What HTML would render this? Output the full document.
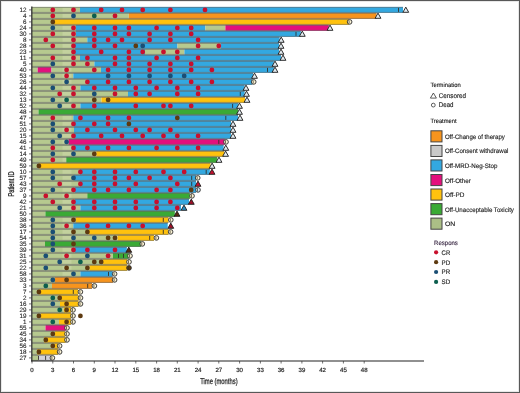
<!DOCTYPE html><html><head><meta charset="utf-8"><style>
html,body{margin:0;padding:0;background:#fff;}
body{width:520px;height:393px;overflow:hidden;position:relative;font-family:"Liberation Sans",sans-serif;}
svg{position:absolute;left:0;top:0;will-change:transform;filter:blur(0.3px);}
text{font-family:"Liberation Sans",sans-serif;text-rendering:geometricPrecision;}
</style></head><body>
<svg width="520" height="393" viewBox="0 0 520 393">
<rect x="0" y="0" width="520" height="393" fill="#fff"/>
<rect x="32.0" y="6.9" width="48.0" height="6.0" fill="#b6c98f"/>
<rect x="80.0" y="6.9" width="323.0" height="6.0" fill="#33a8e0"/>
<rect x="32.0" y="12.9" width="96.8" height="6.0" fill="#b6c98f"/>
<rect x="128.8" y="12.9" width="247.7" height="6.0" fill="#f7941d"/>
<rect x="32.0" y="18.9" width="22.0" height="6.0" fill="#b6c98f"/>
<rect x="54.0" y="18.9" width="294.7" height="6.0" fill="#ffc20e"/>
<rect x="32.0" y="24.9" width="44.0" height="6.0" fill="#b6c98f"/>
<rect x="76.0" y="24.9" width="129.4" height="6.0" fill="#33a8e0"/>
<rect x="205.4" y="24.9" width="20.0" height="6.0" fill="#b6c98f"/>
<rect x="225.4" y="24.9" width="103.4" height="6.0" fill="#e4107d"/>
<rect x="32.0" y="30.9" width="44.0" height="6.0" fill="#b6c98f"/>
<rect x="76.0" y="30.9" width="224.8" height="6.0" fill="#33a8e0"/>
<rect x="32.0" y="36.9" width="55.3" height="6.0" fill="#b6c98f"/>
<rect x="87.3" y="36.9" width="192.3" height="6.0" fill="#33a8e0"/>
<rect x="32.0" y="42.9" width="43.0" height="6.0" fill="#b6c98f"/>
<rect x="75.0" y="42.9" width="102.5" height="6.0" fill="#33a8e0"/>
<rect x="177.5" y="42.9" width="43.2" height="6.0" fill="#b6c98f"/>
<rect x="220.7" y="42.9" width="58.3" height="6.0" fill="#33a8e0"/>
<rect x="32.0" y="48.9" width="43.0" height="6.0" fill="#b6c98f"/>
<rect x="75.0" y="48.9" width="70.0" height="6.0" fill="#33a8e0"/>
<rect x="145.0" y="48.9" width="39.4" height="6.0" fill="#b6c98f"/>
<rect x="184.4" y="48.9" width="94.6" height="6.0" fill="#33a8e0"/>
<rect x="32.0" y="54.9" width="48.0" height="6.0" fill="#b6c98f"/>
<rect x="80.0" y="54.9" width="201.0" height="6.0" fill="#33a8e0"/>
<rect x="32.0" y="60.9" width="62.4" height="6.0" fill="#b6c98f"/>
<rect x="94.4" y="60.9" width="179.4" height="6.0" fill="#33a8e0"/>
<rect x="32.0" y="66.9" width="5.7" height="6.0" fill="#b6c98f"/>
<rect x="37.7" y="66.9" width="13.8" height="6.0" fill="#e4107d"/>
<rect x="51.5" y="66.9" width="49.5" height="6.0" fill="#b6c98f"/>
<rect x="101.0" y="66.9" width="172.8" height="6.0" fill="#33a8e0"/>
<rect x="32.0" y="72.9" width="41.3" height="6.0" fill="#b6c98f"/>
<rect x="73.3" y="72.9" width="179.7" height="6.0" fill="#33a8e0"/>
<rect x="32.0" y="78.9" width="55.3" height="6.0" fill="#b6c98f"/>
<rect x="87.3" y="78.9" width="165.0" height="6.0" fill="#33a8e0"/>
<rect x="32.0" y="84.9" width="48.4" height="6.0" fill="#b6c98f"/>
<rect x="80.4" y="84.9" width="164.2" height="6.0" fill="#33a8e0"/>
<rect x="32.0" y="90.9" width="96.0" height="6.0" fill="#b6c98f"/>
<rect x="128.0" y="90.9" width="116.6" height="6.0" fill="#33a8e0"/>
<rect x="32.0" y="96.9" width="69.5" height="6.0" fill="#b6c98f"/>
<rect x="101.5" y="96.9" width="143.5" height="6.0" fill="#ffc20e"/>
<rect x="32.0" y="102.9" width="48.4" height="6.0" fill="#b6c98f"/>
<rect x="80.4" y="102.9" width="157.9" height="6.0" fill="#33a8e0"/>
<rect x="32.0" y="108.9" width="6.5" height="6.0" fill="#b6c98f"/>
<rect x="38.5" y="108.9" width="199.5" height="6.0" fill="#3aaa35"/>
<rect x="32.0" y="114.9" width="41.3" height="6.0" fill="#b6c98f"/>
<rect x="73.3" y="114.9" width="164.7" height="6.0" fill="#33a8e0"/>
<rect x="32.0" y="120.9" width="41.8" height="6.0" fill="#b6c98f"/>
<rect x="73.8" y="120.9" width="157.2" height="6.0" fill="#33a8e0"/>
<rect x="32.0" y="126.9" width="42.0" height="6.0" fill="#b6c98f"/>
<rect x="74.0" y="126.9" width="157.0" height="6.0" fill="#33a8e0"/>
<rect x="32.0" y="132.9" width="42.0" height="6.0" fill="#b6c98f"/>
<rect x="74.0" y="132.9" width="157.0" height="6.0" fill="#33a8e0"/>
<rect x="32.0" y="138.9" width="36.5" height="6.0" fill="#b6c98f"/>
<rect x="68.5" y="138.9" width="156.3" height="6.0" fill="#e4107d"/>
<rect x="32.0" y="144.9" width="42.0" height="6.0" fill="#b6c98f"/>
<rect x="74.0" y="144.9" width="149.6" height="6.0" fill="#33a8e0"/>
<rect x="32.0" y="150.9" width="64.3" height="6.0" fill="#b6c98f"/>
<rect x="96.3" y="150.9" width="127.9" height="6.0" fill="#ffc20e"/>
<rect x="32.0" y="156.9" width="34.2" height="6.0" fill="#b6c98f"/>
<rect x="66.2" y="156.9" width="151.1" height="6.0" fill="#3aaa35"/>
<rect x="32.0" y="162.9" width="7.0" height="6.0" fill="#b6c98f"/>
<rect x="39.0" y="162.9" width="171.4" height="6.0" fill="#ffc20e"/>
<rect x="32.0" y="168.9" width="48.0" height="6.0" fill="#b6c98f"/>
<rect x="80.0" y="168.9" width="129.8" height="6.0" fill="#33a8e0"/>
<rect x="32.0" y="174.9" width="42.0" height="6.0" fill="#b6c98f"/>
<rect x="74.0" y="174.9" width="122.0" height="6.0" fill="#33a8e0"/>
<rect x="32.0" y="180.9" width="48.0" height="6.0" fill="#b6c98f"/>
<rect x="80.0" y="180.9" width="116.0" height="6.0" fill="#33a8e0"/>
<rect x="32.0" y="186.9" width="43.0" height="6.0" fill="#b6c98f"/>
<rect x="75.0" y="186.9" width="121.0" height="6.0" fill="#33a8e0"/>
<rect x="32.0" y="192.9" width="55.3" height="6.0" fill="#b6c98f"/>
<rect x="87.3" y="192.9" width="102.5" height="6.0" fill="#3aaa35"/>
<rect x="32.0" y="198.9" width="43.0" height="6.0" fill="#b6c98f"/>
<rect x="75.0" y="198.9" width="114.0" height="6.0" fill="#33a8e0"/>
<rect x="32.0" y="204.9" width="48.4" height="6.0" fill="#b6c98f"/>
<rect x="80.4" y="204.9" width="100.6" height="6.0" fill="#33a8e0"/>
<rect x="32.0" y="210.9" width="13.4" height="6.0" fill="#b6c98f"/>
<rect x="45.4" y="210.9" width="129.4" height="6.0" fill="#3aaa35"/>
<rect x="32.0" y="216.9" width="44.0" height="6.0" fill="#b6c98f"/>
<rect x="76.0" y="216.9" width="92.5" height="6.0" fill="#ffc20e"/>
<rect x="32.0" y="222.9" width="41.3" height="6.0" fill="#b6c98f"/>
<rect x="73.3" y="222.9" width="94.4" height="6.0" fill="#33a8e0"/>
<rect x="32.0" y="228.9" width="56.5" height="6.0" fill="#b6c98f"/>
<rect x="88.5" y="228.9" width="80.0" height="6.0" fill="#ffc20e"/>
<rect x="32.0" y="234.9" width="85.5" height="6.0" fill="#b6c98f"/>
<rect x="117.5" y="234.9" width="36.5" height="6.0" fill="#ffc20e"/>
<rect x="32.0" y="240.9" width="13.0" height="6.0" fill="#b6c98f"/>
<rect x="45.0" y="240.9" width="96.0" height="6.0" fill="#3aaa35"/>
<rect x="32.0" y="246.9" width="43.0" height="6.0" fill="#b6c98f"/>
<rect x="75.0" y="246.9" width="51.8" height="6.0" fill="#33a8e0"/>
<rect x="32.0" y="252.9" width="81.0" height="6.0" fill="#b6c98f"/>
<rect x="113.0" y="252.9" width="15.7" height="6.0" fill="#3aaa35"/>
<rect x="32.0" y="258.9" width="71.0" height="6.0" fill="#b6c98f"/>
<rect x="103.0" y="258.9" width="24.2" height="6.0" fill="#ffc20e"/>
<rect x="32.0" y="264.9" width="57.6" height="6.0" fill="#b6c98f"/>
<rect x="89.6" y="264.9" width="37.6" height="6.0" fill="#ffc20e"/>
<rect x="32.0" y="270.9" width="48.4" height="6.0" fill="#b6c98f"/>
<rect x="80.4" y="270.9" width="32.3" height="6.0" fill="#33a8e0"/>
<rect x="32.0" y="276.9" width="23.0" height="6.0" fill="#b6c98f"/>
<rect x="55.0" y="276.9" width="58.0" height="6.0" fill="#f7941d"/>
<rect x="32.0" y="282.9" width="20.0" height="6.0" fill="#b6c98f"/>
<rect x="52.0" y="282.9" width="40.0" height="6.0" fill="#f7941d"/>
<rect x="32.0" y="288.9" width="7.0" height="6.0" fill="#b6c98f"/>
<rect x="39.0" y="288.9" width="39.0" height="6.0" fill="#ffc20e"/>
<rect x="32.0" y="294.9" width="26.3" height="6.0" fill="#b6c98f"/>
<rect x="58.3" y="294.9" width="20.2" height="6.0" fill="#ffc20e"/>
<rect x="32.0" y="300.9" width="28.0" height="6.0" fill="#b6c98f"/>
<rect x="60.0" y="300.9" width="18.5" height="6.0" fill="#ffc20e"/>
<rect x="32.0" y="306.9" width="31.7" height="6.0" fill="#b6c98f"/>
<rect x="63.7" y="306.9" width="7.3" height="6.0" fill="#ffc20e"/>
<rect x="32.0" y="312.9" width="8.8" height="6.0" fill="#b6c98f"/>
<rect x="40.8" y="312.9" width="30.2" height="6.0" fill="#ffc20e"/>
<rect x="32.0" y="318.9" width="27.0" height="6.0" fill="#b6c98f"/>
<rect x="59.0" y="318.9" width="12.0" height="6.0" fill="#ffc20e"/>
<rect x="32.0" y="324.9" width="13.5" height="6.0" fill="#b6c98f"/>
<rect x="45.5" y="324.9" width="20.2" height="6.0" fill="#e4107d"/>
<rect x="32.0" y="330.9" width="23.0" height="6.0" fill="#b6c98f"/>
<rect x="55.0" y="330.9" width="10.0" height="6.0" fill="#ffc20e"/>
<rect x="32.0" y="336.9" width="12.0" height="6.0" fill="#b6c98f"/>
<rect x="44.0" y="336.9" width="21.7" height="6.0" fill="#ffc20e"/>
<rect x="32.0" y="342.9" width="22.2" height="6.0" fill="#b6c98f"/>
<rect x="54.2" y="342.9" width="4.1" height="6.0" fill="#ffc20e"/>
<rect x="32.0" y="348.9" width="5.0" height="6.0" fill="#b6c98f"/>
<rect x="37.0" y="348.9" width="21.0" height="6.0" fill="#ffc20e"/>
<rect x="32.0" y="354.9" width="6.0" height="6.0" fill="#b6c98f"/>
<rect x="38.0" y="354.9" width="13.5" height="6.0" fill="#d3d3da"/>
<rect x="62.5" y="7.9" width="9.0" height="4.0" fill="#d6dfb4" opacity="0.4"/>
<rect x="62.5" y="13.9" width="9.0" height="4.0" fill="#d6dfb4" opacity="0.4"/>
<rect x="62.5" y="25.9" width="9.0" height="4.0" fill="#d6dfb4" opacity="0.4"/>
<rect x="62.5" y="31.9" width="9.0" height="4.0" fill="#d6dfb4" opacity="0.4"/>
<rect x="62.5" y="37.9" width="9.0" height="4.0" fill="#d6dfb4" opacity="0.4"/>
<rect x="62.5" y="43.9" width="9.0" height="4.0" fill="#d6dfb4" opacity="0.4"/>
<rect x="62.5" y="49.9" width="9.0" height="4.0" fill="#d6dfb4" opacity="0.4"/>
<rect x="62.5" y="55.9" width="9.0" height="4.0" fill="#d6dfb4" opacity="0.4"/>
<rect x="62.5" y="61.9" width="9.0" height="4.0" fill="#d6dfb4" opacity="0.4"/>
<rect x="62.5" y="67.9" width="9.0" height="4.0" fill="#d6dfb4" opacity="0.4"/>
<rect x="62.5" y="73.9" width="9.0" height="4.0" fill="#d6dfb4" opacity="0.4"/>
<rect x="62.5" y="79.9" width="9.0" height="4.0" fill="#d6dfb4" opacity="0.4"/>
<rect x="62.5" y="85.9" width="9.0" height="4.0" fill="#d6dfb4" opacity="0.4"/>
<rect x="62.5" y="91.9" width="9.0" height="4.0" fill="#d6dfb4" opacity="0.4"/>
<rect x="62.5" y="97.9" width="9.0" height="4.0" fill="#d6dfb4" opacity="0.4"/>
<rect x="62.5" y="103.9" width="9.0" height="4.0" fill="#d6dfb4" opacity="0.4"/>
<rect x="62.5" y="115.9" width="9.0" height="4.0" fill="#d6dfb4" opacity="0.4"/>
<rect x="62.5" y="121.9" width="9.0" height="4.0" fill="#d6dfb4" opacity="0.4"/>
<rect x="62.5" y="127.9" width="9.0" height="4.0" fill="#d6dfb4" opacity="0.4"/>
<rect x="62.5" y="133.9" width="9.0" height="4.0" fill="#d6dfb4" opacity="0.4"/>
<rect x="62.5" y="139.9" width="6.0" height="4.0" fill="#d6dfb4" opacity="0.4"/>
<rect x="62.5" y="145.9" width="9.0" height="4.0" fill="#d6dfb4" opacity="0.4"/>
<rect x="62.5" y="151.9" width="9.0" height="4.0" fill="#d6dfb4" opacity="0.4"/>
<rect x="62.5" y="157.9" width="3.7" height="4.0" fill="#d6dfb4" opacity="0.4"/>
<rect x="62.5" y="169.9" width="9.0" height="4.0" fill="#d6dfb4" opacity="0.4"/>
<rect x="62.5" y="175.9" width="9.0" height="4.0" fill="#d6dfb4" opacity="0.4"/>
<rect x="62.5" y="181.9" width="9.0" height="4.0" fill="#d6dfb4" opacity="0.4"/>
<rect x="62.5" y="187.9" width="9.0" height="4.0" fill="#d6dfb4" opacity="0.4"/>
<rect x="62.5" y="193.9" width="9.0" height="4.0" fill="#d6dfb4" opacity="0.4"/>
<rect x="62.5" y="199.9" width="9.0" height="4.0" fill="#d6dfb4" opacity="0.4"/>
<rect x="62.5" y="205.9" width="9.0" height="4.0" fill="#d6dfb4" opacity="0.4"/>
<rect x="62.5" y="217.9" width="9.0" height="4.0" fill="#d6dfb4" opacity="0.4"/>
<rect x="62.5" y="223.9" width="9.0" height="4.0" fill="#d6dfb4" opacity="0.4"/>
<rect x="62.5" y="229.9" width="9.0" height="4.0" fill="#d6dfb4" opacity="0.4"/>
<rect x="62.5" y="235.9" width="9.0" height="4.0" fill="#d6dfb4" opacity="0.4"/>
<rect x="62.5" y="247.9" width="9.0" height="4.0" fill="#d6dfb4" opacity="0.4"/>
<rect x="62.5" y="253.9" width="9.0" height="4.0" fill="#d6dfb4" opacity="0.4"/>
<rect x="62.5" y="259.9" width="9.0" height="4.0" fill="#d6dfb4" opacity="0.4"/>
<rect x="62.5" y="265.9" width="9.0" height="4.0" fill="#d6dfb4" opacity="0.4"/>
<rect x="62.5" y="271.9" width="9.0" height="4.0" fill="#d6dfb4" opacity="0.4"/>
<path d="M32 7.40H403.0M32 12.40H403.0" stroke="#666666" stroke-opacity="0.62" stroke-width="0.95" fill="none"/>
<path d="M32 13.40H376.5M32 18.40H376.5" stroke="#666666" stroke-opacity="0.62" stroke-width="0.95" fill="none"/>
<path d="M32 19.40H348.7M32 24.40H348.7" stroke="#666666" stroke-opacity="0.62" stroke-width="0.95" fill="none"/>
<path d="M32 25.40H328.8M32 30.40H328.8" stroke="#666666" stroke-opacity="0.62" stroke-width="0.95" fill="none"/>
<path d="M32 31.40H300.8M32 36.40H300.8" stroke="#666666" stroke-opacity="0.62" stroke-width="0.95" fill="none"/>
<path d="M32 37.40H279.6M32 42.40H279.6" stroke="#666666" stroke-opacity="0.62" stroke-width="0.95" fill="none"/>
<path d="M32 43.40H279.0M32 48.40H279.0" stroke="#666666" stroke-opacity="0.62" stroke-width="0.95" fill="none"/>
<path d="M32 49.40H279.0M32 54.40H279.0" stroke="#666666" stroke-opacity="0.62" stroke-width="0.95" fill="none"/>
<path d="M32 55.40H281.0M32 60.40H281.0" stroke="#666666" stroke-opacity="0.62" stroke-width="0.95" fill="none"/>
<path d="M32 61.40H273.8M32 66.40H273.8" stroke="#666666" stroke-opacity="0.62" stroke-width="0.95" fill="none"/>
<path d="M32 67.40H273.8M32 72.40H273.8" stroke="#666666" stroke-opacity="0.62" stroke-width="0.95" fill="none"/>
<path d="M32 73.40H253.0M32 78.40H253.0" stroke="#666666" stroke-opacity="0.62" stroke-width="0.95" fill="none"/>
<path d="M32 79.40H252.3M32 84.40H252.3" stroke="#666666" stroke-opacity="0.62" stroke-width="0.95" fill="none"/>
<path d="M32 85.40H244.6M32 90.40H244.6" stroke="#666666" stroke-opacity="0.62" stroke-width="0.95" fill="none"/>
<path d="M32 91.40H244.6M32 96.40H244.6" stroke="#666666" stroke-opacity="0.62" stroke-width="0.95" fill="none"/>
<path d="M32 97.40H245.0M32 102.40H245.0" stroke="#666666" stroke-opacity="0.62" stroke-width="0.95" fill="none"/>
<path d="M32 103.40H238.3M32 108.40H238.3" stroke="#666666" stroke-opacity="0.62" stroke-width="0.95" fill="none"/>
<path d="M32 109.40H238.0M32 114.40H238.0" stroke="#666666" stroke-opacity="0.62" stroke-width="0.95" fill="none"/>
<path d="M32 115.40H238.0M32 120.40H238.0" stroke="#666666" stroke-opacity="0.62" stroke-width="0.95" fill="none"/>
<path d="M32 121.40H231.0M32 126.40H231.0" stroke="#666666" stroke-opacity="0.62" stroke-width="0.95" fill="none"/>
<path d="M32 127.40H231.0M32 132.40H231.0" stroke="#666666" stroke-opacity="0.62" stroke-width="0.95" fill="none"/>
<path d="M32 133.40H231.0M32 138.40H231.0" stroke="#666666" stroke-opacity="0.62" stroke-width="0.95" fill="none"/>
<path d="M32 139.40H224.8M32 144.40H224.8" stroke="#666666" stroke-opacity="0.62" stroke-width="0.95" fill="none"/>
<path d="M32 145.40H223.6M32 150.40H223.6" stroke="#666666" stroke-opacity="0.62" stroke-width="0.95" fill="none"/>
<path d="M32 151.40H224.2M32 156.40H224.2" stroke="#666666" stroke-opacity="0.62" stroke-width="0.95" fill="none"/>
<path d="M32 157.40H217.3M32 162.40H217.3" stroke="#666666" stroke-opacity="0.62" stroke-width="0.95" fill="none"/>
<path d="M32 163.40H210.4M32 168.40H210.4" stroke="#666666" stroke-opacity="0.62" stroke-width="0.95" fill="none"/>
<path d="M32 169.40H209.8M32 174.40H209.8" stroke="#666666" stroke-opacity="0.62" stroke-width="0.95" fill="none"/>
<path d="M32 175.40H196.0M32 180.40H196.0" stroke="#666666" stroke-opacity="0.62" stroke-width="0.95" fill="none"/>
<path d="M32 181.40H196.0M32 186.40H196.0" stroke="#666666" stroke-opacity="0.62" stroke-width="0.95" fill="none"/>
<path d="M32 187.40H196.0M32 192.40H196.0" stroke="#666666" stroke-opacity="0.62" stroke-width="0.95" fill="none"/>
<path d="M32 193.40H189.8M32 198.40H189.8" stroke="#666666" stroke-opacity="0.62" stroke-width="0.95" fill="none"/>
<path d="M32 199.40H189.0M32 204.40H189.0" stroke="#666666" stroke-opacity="0.62" stroke-width="0.95" fill="none"/>
<path d="M32 205.40H181.0M32 210.40H181.0" stroke="#666666" stroke-opacity="0.62" stroke-width="0.95" fill="none"/>
<path d="M32 211.40H174.8M32 216.40H174.8" stroke="#666666" stroke-opacity="0.62" stroke-width="0.95" fill="none"/>
<path d="M32 217.40H168.5M32 222.40H168.5" stroke="#666666" stroke-opacity="0.62" stroke-width="0.95" fill="none"/>
<path d="M32 223.40H167.7M32 228.40H167.7" stroke="#666666" stroke-opacity="0.62" stroke-width="0.95" fill="none"/>
<path d="M32 229.40H168.5M32 234.40H168.5" stroke="#666666" stroke-opacity="0.62" stroke-width="0.95" fill="none"/>
<path d="M32 235.40H154.0M32 240.40H154.0" stroke="#666666" stroke-opacity="0.62" stroke-width="0.95" fill="none"/>
<path d="M32 241.40H141.0M32 246.40H141.0" stroke="#666666" stroke-opacity="0.62" stroke-width="0.95" fill="none"/>
<path d="M32 247.40H126.8M32 252.40H126.8" stroke="#666666" stroke-opacity="0.62" stroke-width="0.95" fill="none"/>
<path d="M32 253.40H128.7M32 258.40H128.7" stroke="#666666" stroke-opacity="0.62" stroke-width="0.95" fill="none"/>
<path d="M32 259.40H127.2M32 264.40H127.2" stroke="#666666" stroke-opacity="0.62" stroke-width="0.95" fill="none"/>
<path d="M32 265.40H127.2M32 270.40H127.2" stroke="#666666" stroke-opacity="0.62" stroke-width="0.95" fill="none"/>
<path d="M32 271.40H112.7M32 276.40H112.7" stroke="#666666" stroke-opacity="0.62" stroke-width="0.95" fill="none"/>
<path d="M32 277.40H113.0M32 282.40H113.0" stroke="#666666" stroke-opacity="0.62" stroke-width="0.95" fill="none"/>
<path d="M32 283.40H92.0M32 288.40H92.0" stroke="#666666" stroke-opacity="0.62" stroke-width="0.95" fill="none"/>
<path d="M32 289.40H78.0M32 294.40H78.0" stroke="#666666" stroke-opacity="0.62" stroke-width="0.95" fill="none"/>
<path d="M32 295.40H78.5M32 300.40H78.5" stroke="#666666" stroke-opacity="0.62" stroke-width="0.95" fill="none"/>
<path d="M32 301.40H78.5M32 306.40H78.5" stroke="#666666" stroke-opacity="0.62" stroke-width="0.95" fill="none"/>
<path d="M32 307.40H71.0M32 312.40H71.0" stroke="#666666" stroke-opacity="0.62" stroke-width="0.95" fill="none"/>
<path d="M32 313.40H71.0M32 318.40H71.0" stroke="#666666" stroke-opacity="0.62" stroke-width="0.95" fill="none"/>
<path d="M32 319.40H71.0M32 324.40H71.0" stroke="#666666" stroke-opacity="0.62" stroke-width="0.95" fill="none"/>
<path d="M32 325.40H65.7M32 330.40H65.7" stroke="#666666" stroke-opacity="0.62" stroke-width="0.95" fill="none"/>
<path d="M32 331.40H65.0M32 336.40H65.0" stroke="#666666" stroke-opacity="0.62" stroke-width="0.95" fill="none"/>
<path d="M32 337.40H65.7M32 342.40H65.7" stroke="#666666" stroke-opacity="0.62" stroke-width="0.95" fill="none"/>
<path d="M32 343.40H58.3M32 348.40H58.3" stroke="#666666" stroke-opacity="0.62" stroke-width="0.95" fill="none"/>
<path d="M32 349.40H58.0M32 354.40H58.0" stroke="#666666" stroke-opacity="0.62" stroke-width="0.95" fill="none"/>
<path d="M32 355.40H51.5M32 360.40H51.5" stroke="#666666" stroke-opacity="0.62" stroke-width="0.95" fill="none"/>
<line x1="398.5" y1="7.9" x2="398.5" y2="11.9" stroke="#33302a" stroke-width="0.9"/>
<line x1="296.0" y1="31.9" x2="296.0" y2="35.9" stroke="#33302a" stroke-width="0.9"/>
<line x1="267.5" y1="67.9" x2="267.5" y2="71.9" stroke="#33302a" stroke-width="0.9"/>
<line x1="240.3" y1="91.9" x2="240.3" y2="95.9" stroke="#33302a" stroke-width="0.9"/>
<line x1="232.6" y1="103.9" x2="232.6" y2="107.9" stroke="#33302a" stroke-width="0.9"/>
<line x1="225.8" y1="115.9" x2="225.8" y2="119.9" stroke="#33302a" stroke-width="0.9"/>
<line x1="218.8" y1="139.9" x2="218.8" y2="143.9" stroke="#33302a" stroke-width="0.9"/>
<line x1="206.2" y1="169.9" x2="206.2" y2="173.9" stroke="#33302a" stroke-width="0.9"/>
<line x1="191.7" y1="175.9" x2="191.7" y2="179.9" stroke="#33302a" stroke-width="0.9"/>
<line x1="191.7" y1="181.9" x2="191.7" y2="185.9" stroke="#33302a" stroke-width="0.9"/>
<line x1="163.3" y1="217.9" x2="163.3" y2="221.9" stroke="#33302a" stroke-width="0.9"/>
<line x1="163.3" y1="229.9" x2="163.3" y2="233.9" stroke="#33302a" stroke-width="0.9"/>
<line x1="149.7" y1="235.9" x2="149.7" y2="239.9" stroke="#33302a" stroke-width="0.9"/>
<line x1="118.5" y1="253.9" x2="118.5" y2="257.9" stroke="#33302a" stroke-width="0.9"/>
<line x1="123.5" y1="253.9" x2="123.5" y2="257.9" stroke="#33302a" stroke-width="0.9"/>
<line x1="108.5" y1="271.9" x2="108.5" y2="275.9" stroke="#33302a" stroke-width="0.9"/>
<line x1="87.7" y1="283.9" x2="87.7" y2="287.9" stroke="#33302a" stroke-width="0.9"/>
<line x1="73.3" y1="289.9" x2="73.3" y2="293.9" stroke="#33302a" stroke-width="0.9"/>
<line x1="38.5" y1="355.9" x2="38.5" y2="359.9" stroke="#33302a" stroke-width="0.9"/>
<line x1="45.6" y1="355.9" x2="45.6" y2="359.9" stroke="#33302a" stroke-width="0.9"/>
<circle cx="52.8" cy="9.9" r="2.4" fill="#c8102e"/>
<circle cx="73.5" cy="9.9" r="2.4" fill="#c8102e"/>
<circle cx="101.2" cy="9.9" r="2.4" fill="#c8102e"/>
<circle cx="122.0" cy="9.9" r="2.4" fill="#c8102e"/>
<circle cx="142.7" cy="9.9" r="2.4" fill="#c8102e"/>
<circle cx="170.4" cy="9.9" r="2.4" fill="#c8102e"/>
<circle cx="205.0" cy="9.9" r="2.4" fill="#c8102e"/>
<circle cx="52.8" cy="15.9" r="2.4" fill="#c8102e"/>
<circle cx="115.0" cy="15.9" r="2.4" fill="#c8102e"/>
<circle cx="73.5" cy="15.9" r="2.4" fill="#1b4e74"/>
<circle cx="94.3" cy="15.9" r="2.4" fill="#0d5e4e"/>
<circle cx="52.8" cy="21.9" r="2.4" fill="#5e3a10"/>
<circle cx="52.8" cy="27.9" r="2.4" fill="#1b4e74"/>
<circle cx="73.5" cy="27.9" r="2.4" fill="#c8102e"/>
<circle cx="94.3" cy="27.9" r="2.4" fill="#c8102e"/>
<circle cx="115.0" cy="27.9" r="2.4" fill="#c8102e"/>
<circle cx="128.9" cy="27.9" r="2.4" fill="#c8102e"/>
<circle cx="156.6" cy="27.9" r="2.4" fill="#c8102e"/>
<circle cx="177.3" cy="27.9" r="2.4" fill="#c8102e"/>
<circle cx="191.2" cy="27.9" r="2.4" fill="#c8102e"/>
<circle cx="52.8" cy="33.9" r="2.4" fill="#c8102e"/>
<circle cx="73.5" cy="33.9" r="2.4" fill="#c8102e"/>
<circle cx="94.3" cy="33.9" r="2.4" fill="#c8102e"/>
<circle cx="115.0" cy="33.9" r="2.4" fill="#c8102e"/>
<circle cx="128.9" cy="33.9" r="2.4" fill="#c8102e"/>
<circle cx="149.6" cy="33.9" r="2.4" fill="#c8102e"/>
<circle cx="170.4" cy="33.9" r="2.4" fill="#c8102e"/>
<circle cx="191.2" cy="33.9" r="2.4" fill="#c8102e"/>
<circle cx="45.8" cy="39.9" r="2.4" fill="#c8102e"/>
<circle cx="73.5" cy="39.9" r="2.4" fill="#c8102e"/>
<circle cx="94.3" cy="39.9" r="2.4" fill="#c8102e"/>
<circle cx="108.1" cy="39.9" r="2.4" fill="#c8102e"/>
<circle cx="122.0" cy="39.9" r="2.4" fill="#c8102e"/>
<circle cx="149.6" cy="39.9" r="2.4" fill="#c8102e"/>
<circle cx="170.4" cy="39.9" r="2.4" fill="#c8102e"/>
<circle cx="198.1" cy="39.9" r="2.4" fill="#c8102e"/>
<circle cx="52.8" cy="45.9" r="2.4" fill="#c8102e"/>
<circle cx="73.5" cy="45.9" r="2.4" fill="#c8102e"/>
<circle cx="94.3" cy="45.9" r="2.4" fill="#c8102e"/>
<circle cx="115.0" cy="45.9" r="2.4" fill="#c8102e"/>
<circle cx="198.1" cy="45.9" r="2.4" fill="#c8102e"/>
<circle cx="218.8" cy="45.9" r="2.4" fill="#c8102e"/>
<circle cx="135.8" cy="45.9" r="2.4" fill="#5e3a10"/>
<circle cx="142.7" cy="45.9" r="2.4" fill="#1b4e74"/>
<circle cx="73.5" cy="51.9" r="2.4" fill="#c8102e"/>
<circle cx="101.2" cy="51.9" r="2.4" fill="#c8102e"/>
<circle cx="128.9" cy="51.9" r="2.4" fill="#c8102e"/>
<circle cx="142.7" cy="51.9" r="2.4" fill="#c8102e"/>
<circle cx="163.5" cy="51.9" r="2.4" fill="#c8102e"/>
<circle cx="177.3" cy="51.9" r="2.4" fill="#c8102e"/>
<circle cx="52.8" cy="57.9" r="2.4" fill="#c8102e"/>
<circle cx="73.5" cy="57.9" r="2.4" fill="#c8102e"/>
<circle cx="87.4" cy="57.9" r="2.4" fill="#c8102e"/>
<circle cx="115.0" cy="57.9" r="2.4" fill="#c8102e"/>
<circle cx="128.9" cy="57.9" r="2.4" fill="#c8102e"/>
<circle cx="156.6" cy="57.9" r="2.4" fill="#c8102e"/>
<circle cx="177.3" cy="57.9" r="2.4" fill="#c8102e"/>
<circle cx="198.1" cy="57.9" r="2.4" fill="#c8102e"/>
<circle cx="52.8" cy="63.9" r="2.4" fill="#1b4e74"/>
<circle cx="73.5" cy="63.9" r="2.4" fill="#c8102e"/>
<circle cx="87.4" cy="63.9" r="2.4" fill="#c8102e"/>
<circle cx="115.0" cy="63.9" r="2.4" fill="#c8102e"/>
<circle cx="128.9" cy="63.9" r="2.4" fill="#c8102e"/>
<circle cx="149.6" cy="63.9" r="2.4" fill="#c8102e"/>
<circle cx="170.4" cy="63.9" r="2.4" fill="#c8102e"/>
<circle cx="191.2" cy="63.9" r="2.4" fill="#c8102e"/>
<circle cx="66.6" cy="69.9" r="2.4" fill="#c8102e"/>
<circle cx="94.3" cy="69.9" r="2.4" fill="#c8102e"/>
<circle cx="108.1" cy="69.9" r="2.4" fill="#c8102e"/>
<circle cx="128.9" cy="69.9" r="2.4" fill="#c8102e"/>
<circle cx="149.6" cy="69.9" r="2.4" fill="#c8102e"/>
<circle cx="170.4" cy="69.9" r="2.4" fill="#c8102e"/>
<circle cx="191.2" cy="69.9" r="2.4" fill="#c8102e"/>
<circle cx="211.9" cy="69.9" r="2.4" fill="#c8102e"/>
<circle cx="52.8" cy="75.9" r="2.4" fill="#1b4e74"/>
<circle cx="108.1" cy="75.9" r="2.4" fill="#1b4e74"/>
<circle cx="128.9" cy="75.9" r="2.4" fill="#1b4e74"/>
<circle cx="149.6" cy="75.9" r="2.4" fill="#1b4e74"/>
<circle cx="170.4" cy="75.9" r="2.4" fill="#1b4e74"/>
<circle cx="184.2" cy="75.9" r="2.4" fill="#1b4e74"/>
<circle cx="66.6" cy="75.9" r="2.4" fill="#c8102e"/>
<circle cx="66.6" cy="81.9" r="2.4" fill="#1b4e74"/>
<circle cx="87.4" cy="81.9" r="2.4" fill="#c8102e"/>
<circle cx="108.1" cy="81.9" r="2.4" fill="#c8102e"/>
<circle cx="128.9" cy="81.9" r="2.4" fill="#c8102e"/>
<circle cx="149.6" cy="81.9" r="2.4" fill="#c8102e"/>
<circle cx="170.4" cy="81.9" r="2.4" fill="#c8102e"/>
<circle cx="191.2" cy="81.9" r="2.4" fill="#c8102e"/>
<circle cx="211.9" cy="81.9" r="2.4" fill="#c8102e"/>
<circle cx="52.8" cy="87.9" r="2.4" fill="#1b4e74"/>
<circle cx="73.5" cy="87.9" r="2.4" fill="#c8102e"/>
<circle cx="94.3" cy="87.9" r="2.4" fill="#c8102e"/>
<circle cx="115.0" cy="87.9" r="2.4" fill="#c8102e"/>
<circle cx="135.8" cy="87.9" r="2.4" fill="#c8102e"/>
<circle cx="156.6" cy="87.9" r="2.4" fill="#c8102e"/>
<circle cx="177.3" cy="87.9" r="2.4" fill="#c8102e"/>
<circle cx="198.1" cy="87.9" r="2.4" fill="#c8102e"/>
<circle cx="59.7" cy="93.9" r="2.4" fill="#c8102e"/>
<circle cx="73.5" cy="93.9" r="2.4" fill="#c8102e"/>
<circle cx="115.0" cy="93.9" r="2.4" fill="#c8102e"/>
<circle cx="135.8" cy="93.9" r="2.4" fill="#c8102e"/>
<circle cx="149.6" cy="93.9" r="2.4" fill="#c8102e"/>
<circle cx="177.3" cy="93.9" r="2.4" fill="#c8102e"/>
<circle cx="198.1" cy="93.9" r="2.4" fill="#c8102e"/>
<circle cx="94.3" cy="93.9" r="2.4" fill="#1b4e74"/>
<circle cx="52.8" cy="99.9" r="2.4" fill="#1b4e74"/>
<circle cx="66.6" cy="99.9" r="2.4" fill="#0d5e4e"/>
<circle cx="94.3" cy="99.9" r="2.4" fill="#5e3a10"/>
<circle cx="108.1" cy="99.9" r="2.4" fill="#5e3a10"/>
<circle cx="59.7" cy="105.9" r="2.4" fill="#1b4e74"/>
<circle cx="73.5" cy="105.9" r="2.4" fill="#c8102e"/>
<circle cx="94.3" cy="105.9" r="2.4" fill="#c8102e"/>
<circle cx="135.8" cy="105.9" r="2.4" fill="#c8102e"/>
<circle cx="163.5" cy="105.9" r="2.4" fill="#c8102e"/>
<circle cx="170.4" cy="105.9" r="2.4" fill="#c8102e"/>
<circle cx="191.2" cy="105.9" r="2.4" fill="#c8102e"/>
<circle cx="52.8" cy="117.9" r="2.4" fill="#c8102e"/>
<circle cx="80.4" cy="117.9" r="2.4" fill="#c8102e"/>
<circle cx="108.1" cy="117.9" r="2.4" fill="#c8102e"/>
<circle cx="128.9" cy="117.9" r="2.4" fill="#c8102e"/>
<circle cx="177.3" cy="117.9" r="2.4" fill="#5e3a10"/>
<circle cx="52.8" cy="123.9" r="2.4" fill="#1b4e74"/>
<circle cx="73.5" cy="123.9" r="2.4" fill="#c8102e"/>
<circle cx="94.3" cy="123.9" r="2.4" fill="#c8102e"/>
<circle cx="108.1" cy="123.9" r="2.4" fill="#c8102e"/>
<circle cx="128.9" cy="123.9" r="2.4" fill="#5e3a10"/>
<circle cx="52.8" cy="129.9" r="2.4" fill="#1b4e74"/>
<circle cx="66.6" cy="129.9" r="2.4" fill="#c8102e"/>
<circle cx="87.4" cy="129.9" r="2.4" fill="#c8102e"/>
<circle cx="115.0" cy="129.9" r="2.4" fill="#c8102e"/>
<circle cx="135.8" cy="129.9" r="2.4" fill="#c8102e"/>
<circle cx="149.6" cy="129.9" r="2.4" fill="#c8102e"/>
<circle cx="170.4" cy="129.9" r="2.4" fill="#c8102e"/>
<circle cx="59.7" cy="135.9" r="2.4" fill="#1b4e74"/>
<circle cx="73.5" cy="135.9" r="2.4" fill="#c8102e"/>
<circle cx="101.2" cy="135.9" r="2.4" fill="#c8102e"/>
<circle cx="122.0" cy="135.9" r="2.4" fill="#c8102e"/>
<circle cx="142.7" cy="135.9" r="2.4" fill="#c8102e"/>
<circle cx="163.5" cy="135.9" r="2.4" fill="#c8102e"/>
<circle cx="177.3" cy="135.9" r="2.4" fill="#c8102e"/>
<circle cx="198.1" cy="135.9" r="2.4" fill="#c8102e"/>
<circle cx="52.8" cy="141.9" r="2.4" fill="#1b4e74"/>
<circle cx="66.6" cy="141.9" r="2.4" fill="#1b4e74"/>
<circle cx="52.8" cy="147.9" r="2.4" fill="#c8102e"/>
<circle cx="73.5" cy="147.9" r="2.4" fill="#c8102e"/>
<circle cx="87.4" cy="147.9" r="2.4" fill="#c8102e"/>
<circle cx="108.1" cy="147.9" r="2.4" fill="#c8102e"/>
<circle cx="128.9" cy="147.9" r="2.4" fill="#c8102e"/>
<circle cx="156.6" cy="147.9" r="2.4" fill="#c8102e"/>
<circle cx="177.3" cy="147.9" r="2.4" fill="#c8102e"/>
<circle cx="198.1" cy="147.9" r="2.4" fill="#c8102e"/>
<circle cx="52.8" cy="153.9" r="2.4" fill="#1b4e74"/>
<circle cx="73.5" cy="153.9" r="2.4" fill="#1b4e74"/>
<circle cx="94.3" cy="153.9" r="2.4" fill="#5e3a10"/>
<circle cx="52.8" cy="159.9" r="2.4" fill="#c8102e"/>
<circle cx="38.9" cy="165.9" r="2.4" fill="#5e3a10"/>
<circle cx="52.8" cy="171.9" r="2.4" fill="#1b4e74"/>
<circle cx="80.4" cy="171.9" r="2.4" fill="#c8102e"/>
<circle cx="94.3" cy="171.9" r="2.4" fill="#c8102e"/>
<circle cx="115.0" cy="171.9" r="2.4" fill="#c8102e"/>
<circle cx="135.8" cy="171.9" r="2.4" fill="#c8102e"/>
<circle cx="163.5" cy="171.9" r="2.4" fill="#c8102e"/>
<circle cx="184.2" cy="171.9" r="2.4" fill="#c8102e"/>
<circle cx="52.8" cy="177.9" r="2.4" fill="#1b4e74"/>
<circle cx="73.5" cy="177.9" r="2.4" fill="#1b4e74"/>
<circle cx="94.3" cy="177.9" r="2.4" fill="#c8102e"/>
<circle cx="115.0" cy="177.9" r="2.4" fill="#c8102e"/>
<circle cx="128.9" cy="177.9" r="2.4" fill="#c8102e"/>
<circle cx="149.6" cy="177.9" r="2.4" fill="#c8102e"/>
<circle cx="170.4" cy="177.9" r="2.4" fill="#c8102e"/>
<circle cx="59.7" cy="183.9" r="2.4" fill="#c8102e"/>
<circle cx="80.4" cy="183.9" r="2.4" fill="#c8102e"/>
<circle cx="94.3" cy="183.9" r="2.4" fill="#c8102e"/>
<circle cx="115.0" cy="183.9" r="2.4" fill="#c8102e"/>
<circle cx="135.8" cy="183.9" r="2.4" fill="#c8102e"/>
<circle cx="177.3" cy="183.9" r="2.4" fill="#c8102e"/>
<circle cx="52.8" cy="189.9" r="2.4" fill="#1b4e74"/>
<circle cx="73.5" cy="189.9" r="2.4" fill="#c8102e"/>
<circle cx="94.3" cy="189.9" r="2.4" fill="#c8102e"/>
<circle cx="108.1" cy="189.9" r="2.4" fill="#c8102e"/>
<circle cx="128.9" cy="189.9" r="2.4" fill="#c8102e"/>
<circle cx="156.6" cy="189.9" r="2.4" fill="#c8102e"/>
<circle cx="170.4" cy="189.9" r="2.4" fill="#c8102e"/>
<circle cx="191.2" cy="189.9" r="2.4" fill="#5e3a10"/>
<circle cx="45.8" cy="195.9" r="2.4" fill="#c8102e"/>
<circle cx="66.6" cy="195.9" r="2.4" fill="#c8102e"/>
<circle cx="52.8" cy="201.9" r="2.4" fill="#c8102e"/>
<circle cx="73.5" cy="201.9" r="2.4" fill="#c8102e"/>
<circle cx="94.3" cy="201.9" r="2.4" fill="#c8102e"/>
<circle cx="115.0" cy="201.9" r="2.4" fill="#c8102e"/>
<circle cx="135.8" cy="201.9" r="2.4" fill="#c8102e"/>
<circle cx="156.6" cy="201.9" r="2.4" fill="#c8102e"/>
<circle cx="170.4" cy="201.9" r="2.4" fill="#c8102e"/>
<circle cx="59.7" cy="207.9" r="2.4" fill="#1b4e74"/>
<circle cx="73.5" cy="207.9" r="2.4" fill="#c8102e"/>
<circle cx="94.3" cy="207.9" r="2.4" fill="#c8102e"/>
<circle cx="115.0" cy="207.9" r="2.4" fill="#c8102e"/>
<circle cx="135.8" cy="207.9" r="2.4" fill="#c8102e"/>
<circle cx="156.6" cy="207.9" r="2.4" fill="#c8102e"/>
<circle cx="177.3" cy="207.9" r="2.4" fill="#c8102e"/>
<circle cx="52.8" cy="219.9" r="2.4" fill="#1b4e74"/>
<circle cx="73.5" cy="219.9" r="2.4" fill="#5e3a10"/>
<circle cx="52.8" cy="225.9" r="2.4" fill="#1b4e74"/>
<circle cx="66.6" cy="225.9" r="2.4" fill="#c8102e"/>
<circle cx="87.4" cy="225.9" r="2.4" fill="#c8102e"/>
<circle cx="108.1" cy="225.9" r="2.4" fill="#c8102e"/>
<circle cx="128.9" cy="225.9" r="2.4" fill="#c8102e"/>
<circle cx="142.7" cy="225.9" r="2.4" fill="#c8102e"/>
<circle cx="52.8" cy="231.9" r="2.4" fill="#1b4e74"/>
<circle cx="73.5" cy="231.9" r="2.4" fill="#5e3a10"/>
<circle cx="87.4" cy="231.9" r="2.4" fill="#5e3a10"/>
<circle cx="52.8" cy="237.9" r="2.4" fill="#1b4e74"/>
<circle cx="73.5" cy="237.9" r="2.4" fill="#1b4e74"/>
<circle cx="94.3" cy="237.9" r="2.4" fill="#1b4e74"/>
<circle cx="108.1" cy="237.9" r="2.4" fill="#5e3a10"/>
<circle cx="115.0" cy="237.9" r="2.4" fill="#5e3a10"/>
<circle cx="52.8" cy="243.9" r="2.4" fill="#1b4e74"/>
<circle cx="73.5" cy="243.9" r="2.4" fill="#5e3a10"/>
<circle cx="52.8" cy="249.9" r="2.4" fill="#1b4e74"/>
<circle cx="73.5" cy="249.9" r="2.4" fill="#c8102e"/>
<circle cx="87.4" cy="249.9" r="2.4" fill="#c8102e"/>
<circle cx="115.0" cy="249.9" r="2.4" fill="#c8102e"/>
<circle cx="45.8" cy="255.9" r="2.4" fill="#1b4e74"/>
<circle cx="87.4" cy="255.9" r="2.4" fill="#1b4e74"/>
<circle cx="66.6" cy="255.9" r="2.4" fill="#c8102e"/>
<circle cx="108.1" cy="255.9" r="2.4" fill="#c8102e"/>
<circle cx="59.7" cy="261.9" r="2.4" fill="#1b4e74"/>
<circle cx="80.4" cy="261.9" r="2.4" fill="#0d5e4e"/>
<circle cx="94.3" cy="261.9" r="2.4" fill="#5e3a10"/>
<circle cx="101.2" cy="261.9" r="2.4" fill="#5e3a10"/>
<circle cx="45.8" cy="267.9" r="2.4" fill="#1b4e74"/>
<circle cx="66.6" cy="267.9" r="2.4" fill="#5e3a10"/>
<circle cx="87.4" cy="267.9" r="2.4" fill="#5e3a10"/>
<circle cx="73.5" cy="273.9" r="2.4" fill="#1b4e74"/>
<circle cx="52.8" cy="279.9" r="2.4" fill="#1b4e74"/>
<circle cx="66.6" cy="279.9" r="2.4" fill="#5e3a10"/>
<circle cx="45.8" cy="285.9" r="2.4" fill="#0d5e4e"/>
<circle cx="38.9" cy="291.9" r="2.4" fill="#5e3a10"/>
<circle cx="52.8" cy="297.9" r="2.4" fill="#0d5e4e"/>
<circle cx="59.7" cy="297.9" r="2.4" fill="#5e3a10"/>
<circle cx="52.8" cy="303.9" r="2.4" fill="#1b4e74"/>
<circle cx="66.6" cy="303.9" r="2.4" fill="#5e3a10"/>
<circle cx="59.7" cy="309.9" r="2.4" fill="#0d5e4e"/>
<circle cx="66.6" cy="309.9" r="2.4" fill="#5e3a10"/>
<circle cx="38.9" cy="315.9" r="2.4" fill="#5e3a10"/>
<circle cx="80.4" cy="315.9" r="2.4" fill="#5e3a10"/>
<circle cx="52.8" cy="321.9" r="2.4" fill="#0d5e4e"/>
<circle cx="66.6" cy="321.9" r="2.4" fill="#5e3a10"/>
<circle cx="52.8" cy="333.9" r="2.4" fill="#5e3a10"/>
<circle cx="45.8" cy="339.9" r="2.4" fill="#5e3a10"/>
<circle cx="52.8" cy="345.9" r="2.4" fill="#5e3a10"/>
<circle cx="38.9" cy="351.9" r="2.4" fill="#5e3a10"/>
<path d="M402.9 12.3L405.8 7.1L408.7 12.3Z" fill="#e4edf2" stroke="#222" stroke-width="0.95"/>
<path d="M375.1 18.3L378.0 13.1L380.9 18.3Z" fill="#e4edf2" stroke="#222" stroke-width="0.95"/>
<circle cx="349.6" cy="21.9" r="2.35" fill="#fbf3d6" stroke="#2e2e2e" stroke-width="0.9"/>
<line x1="349.1" y1="20.3" x2="349.1" y2="23.5" stroke="#3a3520" stroke-width="0.7"/>
<path d="M327.1 30.3L330.0 25.1L332.9 30.3Z" fill="#e4edf2" stroke="#222" stroke-width="0.95"/>
<path d="M299.4 36.3L302.3 31.1L305.2 36.3Z" fill="#e4edf2" stroke="#222" stroke-width="0.95"/>
<path d="M278.3 42.3L281.2 37.1L284.1 42.3Z" fill="#e4edf2" stroke="#222" stroke-width="0.95"/>
<path d="M278.1 48.3L281.0 43.1L283.9 48.3Z" fill="#e4edf2" stroke="#222" stroke-width="0.95"/>
<path d="M278.1 54.3L281.0 49.1L283.9 54.3Z" fill="#e4edf2" stroke="#222" stroke-width="0.95"/>
<path d="M280.1 60.3L283.0 55.1L285.9 60.3Z" fill="#e4edf2" stroke="#222" stroke-width="0.95"/>
<path d="M272.1 66.3L275.0 61.1L277.9 66.3Z" fill="#e4edf2" stroke="#222" stroke-width="0.95"/>
<path d="M272.1 72.3L275.0 67.1L277.9 72.3Z" fill="#e4edf2" stroke="#222" stroke-width="0.95"/>
<path d="M251.6 78.3L254.5 73.1L257.4 78.3Z" fill="#e4edf2" stroke="#222" stroke-width="0.95"/>
<circle cx="253.7" cy="81.9" r="2.35" fill="#fbf3d6" stroke="#2e2e2e" stroke-width="0.9"/>
<line x1="253.2" y1="80.3" x2="253.2" y2="83.5" stroke="#3a3520" stroke-width="0.7"/>
<path d="M243.1 90.3L246.0 85.1L248.9 90.3Z" fill="#e4edf2" stroke="#222" stroke-width="0.95"/>
<path d="M243.6 96.3L246.5 91.1L249.4 96.3Z" fill="#e4edf2" stroke="#222" stroke-width="0.95"/>
<path d="M244.1 102.3L247.0 97.1L249.9 102.3Z" fill="#e4edf2" stroke="#222" stroke-width="0.95"/>
<path d="M236.6 108.3L239.5 103.1L242.4 108.3Z" fill="#e4edf2" stroke="#222" stroke-width="0.95"/>
<path d="M236.6 114.3L239.5 109.1L242.4 114.3Z" fill="#e4edf2" stroke="#222" stroke-width="0.95"/>
<path d="M237.1 120.3L240.0 115.1L242.9 120.3Z" fill="#e4edf2" stroke="#222" stroke-width="0.95"/>
<path d="M230.1 126.3L233.0 121.1L235.9 126.3Z" fill="#e4edf2" stroke="#222" stroke-width="0.95"/>
<path d="M230.1 132.3L233.0 127.1L235.9 132.3Z" fill="#e4edf2" stroke="#222" stroke-width="0.95"/>
<path d="M230.1 138.3L233.0 133.1L235.9 138.3Z" fill="#e4edf2" stroke="#222" stroke-width="0.95"/>
<circle cx="226.0" cy="141.9" r="2.35" fill="#fbf3d6" stroke="#2e2e2e" stroke-width="0.9"/>
<line x1="225.5" y1="140.3" x2="225.5" y2="143.5" stroke="#3a3520" stroke-width="0.7"/>
<path d="M222.9 150.3L225.8 145.1L228.7 150.3Z" fill="#e4edf2" stroke="#222" stroke-width="0.95"/>
<path d="M222.7 156.3L225.6 151.1L228.5 156.3Z" fill="#e4edf2" stroke="#222" stroke-width="0.95"/>
<path d="M216.1 162.3L219.0 157.1L221.9 162.3Z" fill="#e4edf2" stroke="#222" stroke-width="0.95"/>
<path d="M209.2 168.3L212.1 163.1L215.0 168.3Z" fill="#e4edf2" stroke="#222" stroke-width="0.95"/>
<path d="M209.1 174.3L212.0 169.1L214.9 174.3Z" fill="#c8102e" stroke="#222" stroke-width="0.95"/>
<circle cx="197.7" cy="177.9" r="2.35" fill="#fbf3d6" stroke="#2e2e2e" stroke-width="0.9"/>
<line x1="197.2" y1="176.3" x2="197.2" y2="179.5" stroke="#3a3520" stroke-width="0.7"/>
<path d="M195.1 186.3L198.0 181.1L200.9 186.3Z" fill="#c8102e" stroke="#222" stroke-width="0.95"/>
<circle cx="198.0" cy="189.9" r="2.35" fill="#cfe6f4" stroke="#2e2e2e" stroke-width="0.9"/>
<line x1="197.5" y1="188.3" x2="197.5" y2="191.5" stroke="#3a3520" stroke-width="0.7"/>
<circle cx="192.0" cy="195.9" r="2.35" fill="#fbf3d6" stroke="#2e2e2e" stroke-width="0.9"/>
<line x1="191.5" y1="194.3" x2="191.5" y2="197.5" stroke="#3a3520" stroke-width="0.7"/>
<path d="M188.4 204.3L191.3 199.1L194.2 204.3Z" fill="#a01028" stroke="#222" stroke-width="0.95"/>
<path d="M181.1 210.3L184.0 205.1L186.9 210.3Z" fill="#2a8fc4" stroke="#222" stroke-width="0.95"/>
<path d="M174.1 216.3L177.0 211.1L179.9 216.3Z" fill="#5a2a10" stroke="#222" stroke-width="0.95"/>
<circle cx="170.8" cy="219.9" r="2.35" fill="#fbf3d6" stroke="#2e2e2e" stroke-width="0.9"/>
<line x1="170.3" y1="218.3" x2="170.3" y2="221.5" stroke="#3a3520" stroke-width="0.7"/>
<path d="M167.9 228.3L170.8 223.1L173.7 228.3Z" fill="#a01028" stroke="#222" stroke-width="0.95"/>
<circle cx="170.6" cy="231.9" r="2.35" fill="#fbf3d6" stroke="#2e2e2e" stroke-width="0.9"/>
<line x1="170.1" y1="230.3" x2="170.1" y2="233.5" stroke="#3a3520" stroke-width="0.7"/>
<circle cx="156.4" cy="237.9" r="2.35" fill="#fbf3d6" stroke="#2e2e2e" stroke-width="0.9"/>
<line x1="155.9" y1="236.3" x2="155.9" y2="239.5" stroke="#3a3520" stroke-width="0.7"/>
<circle cx="142.3" cy="243.9" r="2.35" fill="#fbf3d6" stroke="#2e2e2e" stroke-width="0.9"/>
<line x1="141.8" y1="242.3" x2="141.8" y2="245.5" stroke="#3a3520" stroke-width="0.7"/>
<path d="M125.9 252.3L128.8 247.1L131.7 252.3Z" fill="#5a2a10" stroke="#222" stroke-width="0.95"/>
<circle cx="130.0" cy="255.9" r="2.35" fill="#fbf3d6" stroke="#2e2e2e" stroke-width="0.9"/>
<line x1="129.5" y1="254.3" x2="129.5" y2="257.5" stroke="#3a3520" stroke-width="0.7"/>
<circle cx="129.0" cy="261.9" r="2.35" fill="#fbf3d6" stroke="#2e2e2e" stroke-width="0.9"/>
<line x1="128.5" y1="260.3" x2="128.5" y2="263.5" stroke="#3a3520" stroke-width="0.7"/>
<circle cx="129.0" cy="267.9" r="2.35" fill="#5e3a10" stroke="#2e2e2e" stroke-width="0.9"/>
<line x1="128.5" y1="266.3" x2="128.5" y2="269.5" stroke="#3a3520" stroke-width="0.7"/>
<circle cx="114.6" cy="273.9" r="2.35" fill="#fbf3d6" stroke="#2e2e2e" stroke-width="0.9"/>
<line x1="114.1" y1="272.3" x2="114.1" y2="275.5" stroke="#3a3520" stroke-width="0.7"/>
<circle cx="114.6" cy="279.9" r="2.35" fill="#fbf3d6" stroke="#2e2e2e" stroke-width="0.9"/>
<line x1="114.1" y1="278.3" x2="114.1" y2="281.5" stroke="#3a3520" stroke-width="0.7"/>
<circle cx="94.4" cy="285.9" r="2.35" fill="#fbf3d6" stroke="#2e2e2e" stroke-width="0.9"/>
<line x1="93.9" y1="284.3" x2="93.9" y2="287.5" stroke="#3a3520" stroke-width="0.7"/>
<circle cx="80.4" cy="291.9" r="2.35" fill="#fbf3d6" stroke="#2e2e2e" stroke-width="0.9"/>
<line x1="79.9" y1="290.3" x2="79.9" y2="293.5" stroke="#3a3520" stroke-width="0.7"/>
<circle cx="80.5" cy="297.9" r="2.35" fill="#fbf3d6" stroke="#2e2e2e" stroke-width="0.9"/>
<line x1="80.0" y1="296.3" x2="80.0" y2="299.5" stroke="#3a3520" stroke-width="0.7"/>
<circle cx="80.5" cy="303.9" r="2.35" fill="#fbf3d6" stroke="#2e2e2e" stroke-width="0.9"/>
<line x1="80.0" y1="302.3" x2="80.0" y2="305.5" stroke="#3a3520" stroke-width="0.7"/>
<circle cx="73.0" cy="309.9" r="2.35" fill="#fbf3d6" stroke="#2e2e2e" stroke-width="0.9"/>
<line x1="72.5" y1="308.3" x2="72.5" y2="311.5" stroke="#3a3520" stroke-width="0.7"/>
<circle cx="73.0" cy="315.9" r="2.35" fill="#fbf3d6" stroke="#2e2e2e" stroke-width="0.9"/>
<line x1="72.5" y1="314.3" x2="72.5" y2="317.5" stroke="#3a3520" stroke-width="0.7"/>
<circle cx="73.0" cy="321.9" r="2.35" fill="#fbf3d6" stroke="#2e2e2e" stroke-width="0.9"/>
<line x1="72.5" y1="320.3" x2="72.5" y2="323.5" stroke="#3a3520" stroke-width="0.7"/>
<circle cx="67.0" cy="327.9" r="2.35" fill="#fbf3d6" stroke="#2e2e2e" stroke-width="0.9"/>
<line x1="66.5" y1="326.3" x2="66.5" y2="329.5" stroke="#3a3520" stroke-width="0.7"/>
<circle cx="67.0" cy="333.9" r="2.35" fill="#fbf3d6" stroke="#2e2e2e" stroke-width="0.9"/>
<line x1="66.5" y1="332.3" x2="66.5" y2="335.5" stroke="#3a3520" stroke-width="0.7"/>
<circle cx="67.0" cy="339.9" r="2.35" fill="#fbf3d6" stroke="#2e2e2e" stroke-width="0.9"/>
<line x1="66.5" y1="338.3" x2="66.5" y2="341.5" stroke="#3a3520" stroke-width="0.7"/>
<circle cx="59.6" cy="345.9" r="2.35" fill="#fbf3d6" stroke="#2e2e2e" stroke-width="0.9"/>
<line x1="59.1" y1="344.3" x2="59.1" y2="347.5" stroke="#3a3520" stroke-width="0.7"/>
<circle cx="59.6" cy="351.9" r="2.35" fill="#fbf3d6" stroke="#2e2e2e" stroke-width="0.9"/>
<line x1="59.1" y1="350.3" x2="59.1" y2="353.5" stroke="#3a3520" stroke-width="0.7"/>
<circle cx="52.4" cy="357.9" r="2.35" fill="#fbf3d6" stroke="#2e2e2e" stroke-width="0.9"/>
<line x1="51.9" y1="356.3" x2="51.9" y2="359.5" stroke="#3a3520" stroke-width="0.7"/>
<line x1="31.8" y1="6.5" x2="31.8" y2="361.5" stroke="#222" stroke-width="1.2"/>
<line x1="31.2" y1="361" x2="424" y2="361" stroke="#222" stroke-width="1.2"/>
<line x1="29" y1="9.9" x2="31.5" y2="9.9" stroke="#333" stroke-width="0.7"/>
<text x="26.4" y="12.1" font-size="6.3" text-anchor="end" fill="#1e1e1e" stroke="#1e1e1e" stroke-width="0.1">12</text>
<line x1="29" y1="15.9" x2="31.5" y2="15.9" stroke="#333" stroke-width="0.7"/>
<text x="26.4" y="18.1" font-size="6.3" text-anchor="end" fill="#1e1e1e" stroke="#1e1e1e" stroke-width="0.1">4</text>
<line x1="29" y1="21.9" x2="31.5" y2="21.9" stroke="#333" stroke-width="0.7"/>
<text x="26.4" y="24.1" font-size="6.3" text-anchor="end" fill="#1e1e1e" stroke="#1e1e1e" stroke-width="0.1">6</text>
<line x1="29" y1="27.9" x2="31.5" y2="27.9" stroke="#333" stroke-width="0.7"/>
<text x="26.4" y="30.1" font-size="6.3" text-anchor="end" fill="#1e1e1e" stroke="#1e1e1e" stroke-width="0.1">24</text>
<line x1="29" y1="33.9" x2="31.5" y2="33.9" stroke="#333" stroke-width="0.7"/>
<text x="26.4" y="36.1" font-size="6.3" text-anchor="end" fill="#1e1e1e" stroke="#1e1e1e" stroke-width="0.1">30</text>
<line x1="29" y1="39.9" x2="31.5" y2="39.9" stroke="#333" stroke-width="0.7"/>
<text x="26.4" y="42.1" font-size="6.3" text-anchor="end" fill="#1e1e1e" stroke="#1e1e1e" stroke-width="0.1">8</text>
<line x1="29" y1="45.9" x2="31.5" y2="45.9" stroke="#333" stroke-width="0.7"/>
<text x="26.4" y="48.1" font-size="6.3" text-anchor="end" fill="#1e1e1e" stroke="#1e1e1e" stroke-width="0.1">28</text>
<line x1="29" y1="51.9" x2="31.5" y2="51.9" stroke="#333" stroke-width="0.7"/>
<text x="26.4" y="54.1" font-size="6.3" text-anchor="end" fill="#1e1e1e" stroke="#1e1e1e" stroke-width="0.1">23</text>
<line x1="29" y1="57.9" x2="31.5" y2="57.9" stroke="#333" stroke-width="0.7"/>
<text x="26.4" y="60.1" font-size="6.3" text-anchor="end" fill="#1e1e1e" stroke="#1e1e1e" stroke-width="0.1">11</text>
<line x1="29" y1="63.9" x2="31.5" y2="63.9" stroke="#333" stroke-width="0.7"/>
<text x="26.4" y="66.1" font-size="6.3" text-anchor="end" fill="#1e1e1e" stroke="#1e1e1e" stroke-width="0.1">5</text>
<line x1="29" y1="69.9" x2="31.5" y2="69.9" stroke="#333" stroke-width="0.7"/>
<text x="26.4" y="72.1" font-size="6.3" text-anchor="end" fill="#1e1e1e" stroke="#1e1e1e" stroke-width="0.1">40</text>
<line x1="29" y1="75.9" x2="31.5" y2="75.9" stroke="#333" stroke-width="0.7"/>
<text x="26.4" y="78.1" font-size="6.3" text-anchor="end" fill="#1e1e1e" stroke="#1e1e1e" stroke-width="0.1">53</text>
<line x1="29" y1="81.9" x2="31.5" y2="81.9" stroke="#333" stroke-width="0.7"/>
<text x="26.4" y="84.1" font-size="6.3" text-anchor="end" fill="#1e1e1e" stroke="#1e1e1e" stroke-width="0.1">26</text>
<line x1="29" y1="87.9" x2="31.5" y2="87.9" stroke="#333" stroke-width="0.7"/>
<text x="26.4" y="90.1" font-size="6.3" text-anchor="end" fill="#1e1e1e" stroke="#1e1e1e" stroke-width="0.1">44</text>
<line x1="29" y1="93.9" x2="31.5" y2="93.9" stroke="#333" stroke-width="0.7"/>
<text x="26.4" y="96.1" font-size="6.3" text-anchor="end" fill="#1e1e1e" stroke="#1e1e1e" stroke-width="0.1">32</text>
<line x1="29" y1="99.9" x2="31.5" y2="99.9" stroke="#333" stroke-width="0.7"/>
<text x="26.4" y="102.1" font-size="6.3" text-anchor="end" fill="#1e1e1e" stroke="#1e1e1e" stroke-width="0.1">13</text>
<line x1="29" y1="105.9" x2="31.5" y2="105.9" stroke="#333" stroke-width="0.7"/>
<text x="26.4" y="108.1" font-size="6.3" text-anchor="end" fill="#1e1e1e" stroke="#1e1e1e" stroke-width="0.1">52</text>
<line x1="29" y1="111.9" x2="31.5" y2="111.9" stroke="#333" stroke-width="0.7"/>
<text x="26.4" y="114.1" font-size="6.3" text-anchor="end" fill="#1e1e1e" stroke="#1e1e1e" stroke-width="0.1">48</text>
<line x1="29" y1="117.9" x2="31.5" y2="117.9" stroke="#333" stroke-width="0.7"/>
<text x="26.4" y="120.1" font-size="6.3" text-anchor="end" fill="#1e1e1e" stroke="#1e1e1e" stroke-width="0.1">47</text>
<line x1="29" y1="123.9" x2="31.5" y2="123.9" stroke="#333" stroke-width="0.7"/>
<text x="26.4" y="126.1" font-size="6.3" text-anchor="end" fill="#1e1e1e" stroke="#1e1e1e" stroke-width="0.1">51</text>
<line x1="29" y1="129.9" x2="31.5" y2="129.9" stroke="#333" stroke-width="0.7"/>
<text x="26.4" y="132.1" font-size="6.3" text-anchor="end" fill="#1e1e1e" stroke="#1e1e1e" stroke-width="0.1">20</text>
<line x1="29" y1="135.9" x2="31.5" y2="135.9" stroke="#333" stroke-width="0.7"/>
<text x="26.4" y="138.1" font-size="6.3" text-anchor="end" fill="#1e1e1e" stroke="#1e1e1e" stroke-width="0.1">15</text>
<line x1="29" y1="141.9" x2="31.5" y2="141.9" stroke="#333" stroke-width="0.7"/>
<text x="26.4" y="144.1" font-size="6.3" text-anchor="end" fill="#1e1e1e" stroke="#1e1e1e" stroke-width="0.1">46</text>
<line x1="29" y1="147.9" x2="31.5" y2="147.9" stroke="#333" stroke-width="0.7"/>
<text x="26.4" y="150.1" font-size="6.3" text-anchor="end" fill="#1e1e1e" stroke="#1e1e1e" stroke-width="0.1">41</text>
<line x1="29" y1="153.9" x2="31.5" y2="153.9" stroke="#333" stroke-width="0.7"/>
<text x="26.4" y="156.1" font-size="6.3" text-anchor="end" fill="#1e1e1e" stroke="#1e1e1e" stroke-width="0.1">14</text>
<line x1="29" y1="159.9" x2="31.5" y2="159.9" stroke="#333" stroke-width="0.7"/>
<text x="26.4" y="162.1" font-size="6.3" text-anchor="end" fill="#1e1e1e" stroke="#1e1e1e" stroke-width="0.1">49</text>
<line x1="29" y1="165.9" x2="31.5" y2="165.9" stroke="#333" stroke-width="0.7"/>
<text x="26.4" y="168.1" font-size="6.3" text-anchor="end" fill="#1e1e1e" stroke="#1e1e1e" stroke-width="0.1">59</text>
<line x1="29" y1="171.9" x2="31.5" y2="171.9" stroke="#333" stroke-width="0.7"/>
<text x="26.4" y="174.1" font-size="6.3" text-anchor="end" fill="#1e1e1e" stroke="#1e1e1e" stroke-width="0.1">10</text>
<line x1="29" y1="177.9" x2="31.5" y2="177.9" stroke="#333" stroke-width="0.7"/>
<text x="26.4" y="180.1" font-size="6.3" text-anchor="end" fill="#1e1e1e" stroke="#1e1e1e" stroke-width="0.1">57</text>
<line x1="29" y1="183.9" x2="31.5" y2="183.9" stroke="#333" stroke-width="0.7"/>
<text x="26.4" y="186.1" font-size="6.3" text-anchor="end" fill="#1e1e1e" stroke="#1e1e1e" stroke-width="0.1">43</text>
<line x1="29" y1="189.9" x2="31.5" y2="189.9" stroke="#333" stroke-width="0.7"/>
<text x="26.4" y="192.1" font-size="6.3" text-anchor="end" fill="#1e1e1e" stroke="#1e1e1e" stroke-width="0.1">37</text>
<line x1="29" y1="195.9" x2="31.5" y2="195.9" stroke="#333" stroke-width="0.7"/>
<text x="26.4" y="198.1" font-size="6.3" text-anchor="end" fill="#1e1e1e" stroke="#1e1e1e" stroke-width="0.1">9</text>
<line x1="29" y1="201.9" x2="31.5" y2="201.9" stroke="#333" stroke-width="0.7"/>
<text x="26.4" y="204.1" font-size="6.3" text-anchor="end" fill="#1e1e1e" stroke="#1e1e1e" stroke-width="0.1">42</text>
<line x1="29" y1="207.9" x2="31.5" y2="207.9" stroke="#333" stroke-width="0.7"/>
<text x="26.4" y="210.1" font-size="6.3" text-anchor="end" fill="#1e1e1e" stroke="#1e1e1e" stroke-width="0.1">21</text>
<line x1="29" y1="213.9" x2="31.5" y2="213.9" stroke="#333" stroke-width="0.7"/>
<text x="26.4" y="216.1" font-size="6.3" text-anchor="end" fill="#1e1e1e" stroke="#1e1e1e" stroke-width="0.1">50</text>
<line x1="29" y1="219.9" x2="31.5" y2="219.9" stroke="#333" stroke-width="0.7"/>
<text x="26.4" y="222.1" font-size="6.3" text-anchor="end" fill="#1e1e1e" stroke="#1e1e1e" stroke-width="0.1">38</text>
<line x1="29" y1="225.9" x2="31.5" y2="225.9" stroke="#333" stroke-width="0.7"/>
<text x="26.4" y="228.1" font-size="6.3" text-anchor="end" fill="#1e1e1e" stroke="#1e1e1e" stroke-width="0.1">36</text>
<line x1="29" y1="231.9" x2="31.5" y2="231.9" stroke="#333" stroke-width="0.7"/>
<text x="26.4" y="234.1" font-size="6.3" text-anchor="end" fill="#1e1e1e" stroke="#1e1e1e" stroke-width="0.1">17</text>
<line x1="29" y1="237.9" x2="31.5" y2="237.9" stroke="#333" stroke-width="0.7"/>
<text x="26.4" y="240.1" font-size="6.3" text-anchor="end" fill="#1e1e1e" stroke="#1e1e1e" stroke-width="0.1">54</text>
<line x1="29" y1="243.9" x2="31.5" y2="243.9" stroke="#333" stroke-width="0.7"/>
<text x="26.4" y="246.1" font-size="6.3" text-anchor="end" fill="#1e1e1e" stroke="#1e1e1e" stroke-width="0.1">35</text>
<line x1="29" y1="249.9" x2="31.5" y2="249.9" stroke="#333" stroke-width="0.7"/>
<text x="26.4" y="252.1" font-size="6.3" text-anchor="end" fill="#1e1e1e" stroke="#1e1e1e" stroke-width="0.1">39</text>
<line x1="29" y1="255.9" x2="31.5" y2="255.9" stroke="#333" stroke-width="0.7"/>
<text x="26.4" y="258.1" font-size="6.3" text-anchor="end" fill="#1e1e1e" stroke="#1e1e1e" stroke-width="0.1">31</text>
<line x1="29" y1="261.9" x2="31.5" y2="261.9" stroke="#333" stroke-width="0.7"/>
<text x="26.4" y="264.1" font-size="6.3" text-anchor="end" fill="#1e1e1e" stroke="#1e1e1e" stroke-width="0.1">25</text>
<line x1="29" y1="267.9" x2="31.5" y2="267.9" stroke="#333" stroke-width="0.7"/>
<text x="26.4" y="270.1" font-size="6.3" text-anchor="end" fill="#1e1e1e" stroke="#1e1e1e" stroke-width="0.1">22</text>
<line x1="29" y1="273.9" x2="31.5" y2="273.9" stroke="#333" stroke-width="0.7"/>
<text x="26.4" y="276.1" font-size="6.3" text-anchor="end" fill="#1e1e1e" stroke="#1e1e1e" stroke-width="0.1">58</text>
<line x1="29" y1="279.9" x2="31.5" y2="279.9" stroke="#333" stroke-width="0.7"/>
<text x="26.4" y="282.1" font-size="6.3" text-anchor="end" fill="#1e1e1e" stroke="#1e1e1e" stroke-width="0.1">33</text>
<line x1="29" y1="285.9" x2="31.5" y2="285.9" stroke="#333" stroke-width="0.7"/>
<text x="26.4" y="288.1" font-size="6.3" text-anchor="end" fill="#1e1e1e" stroke="#1e1e1e" stroke-width="0.1">3</text>
<line x1="29" y1="291.9" x2="31.5" y2="291.9" stroke="#333" stroke-width="0.7"/>
<text x="26.4" y="294.1" font-size="6.3" text-anchor="end" fill="#1e1e1e" stroke="#1e1e1e" stroke-width="0.1">7</text>
<line x1="29" y1="297.9" x2="31.5" y2="297.9" stroke="#333" stroke-width="0.7"/>
<text x="26.4" y="300.1" font-size="6.3" text-anchor="end" fill="#1e1e1e" stroke="#1e1e1e" stroke-width="0.1">2</text>
<line x1="29" y1="303.9" x2="31.5" y2="303.9" stroke="#333" stroke-width="0.7"/>
<text x="26.4" y="306.1" font-size="6.3" text-anchor="end" fill="#1e1e1e" stroke="#1e1e1e" stroke-width="0.1">16</text>
<line x1="29" y1="309.9" x2="31.5" y2="309.9" stroke="#333" stroke-width="0.7"/>
<text x="26.4" y="312.1" font-size="6.3" text-anchor="end" fill="#1e1e1e" stroke="#1e1e1e" stroke-width="0.1">29</text>
<line x1="29" y1="315.9" x2="31.5" y2="315.9" stroke="#333" stroke-width="0.7"/>
<text x="26.4" y="318.1" font-size="6.3" text-anchor="end" fill="#1e1e1e" stroke="#1e1e1e" stroke-width="0.1">19</text>
<line x1="29" y1="321.9" x2="31.5" y2="321.9" stroke="#333" stroke-width="0.7"/>
<text x="26.4" y="324.1" font-size="6.3" text-anchor="end" fill="#1e1e1e" stroke="#1e1e1e" stroke-width="0.1">1</text>
<line x1="29" y1="327.9" x2="31.5" y2="327.9" stroke="#333" stroke-width="0.7"/>
<text x="26.4" y="330.1" font-size="6.3" text-anchor="end" fill="#1e1e1e" stroke="#1e1e1e" stroke-width="0.1">55</text>
<line x1="29" y1="333.9" x2="31.5" y2="333.9" stroke="#333" stroke-width="0.7"/>
<text x="26.4" y="336.1" font-size="6.3" text-anchor="end" fill="#1e1e1e" stroke="#1e1e1e" stroke-width="0.1">45</text>
<line x1="29" y1="339.9" x2="31.5" y2="339.9" stroke="#333" stroke-width="0.7"/>
<text x="26.4" y="342.1" font-size="6.3" text-anchor="end" fill="#1e1e1e" stroke="#1e1e1e" stroke-width="0.1">34</text>
<line x1="29" y1="345.9" x2="31.5" y2="345.9" stroke="#333" stroke-width="0.7"/>
<text x="26.4" y="348.1" font-size="6.3" text-anchor="end" fill="#1e1e1e" stroke="#1e1e1e" stroke-width="0.1">56</text>
<line x1="29" y1="351.9" x2="31.5" y2="351.9" stroke="#333" stroke-width="0.7"/>
<text x="26.4" y="354.1" font-size="6.3" text-anchor="end" fill="#1e1e1e" stroke="#1e1e1e" stroke-width="0.1">18</text>
<line x1="29" y1="357.9" x2="31.5" y2="357.9" stroke="#333" stroke-width="0.7"/>
<text x="26.4" y="360.1" font-size="6.3" text-anchor="end" fill="#1e1e1e" stroke="#1e1e1e" stroke-width="0.1">27</text>
<line x1="32.0" y1="361" x2="32.0" y2="363.5" stroke="#333" stroke-width="0.7"/>
<text x="32.0" y="372.2" font-size="6.1" text-anchor="middle" fill="#1e1e1e" stroke="#1e1e1e" stroke-width="0.18">0</text>
<line x1="52.8" y1="361" x2="52.8" y2="363.5" stroke="#333" stroke-width="0.7"/>
<text x="52.8" y="372.2" font-size="6.1" text-anchor="middle" fill="#1e1e1e" stroke="#1e1e1e" stroke-width="0.18">3</text>
<line x1="73.5" y1="361" x2="73.5" y2="363.5" stroke="#333" stroke-width="0.7"/>
<text x="73.5" y="372.2" font-size="6.1" text-anchor="middle" fill="#1e1e1e" stroke="#1e1e1e" stroke-width="0.18">6</text>
<line x1="94.3" y1="361" x2="94.3" y2="363.5" stroke="#333" stroke-width="0.7"/>
<text x="94.3" y="372.2" font-size="6.1" text-anchor="middle" fill="#1e1e1e" stroke="#1e1e1e" stroke-width="0.18">9</text>
<line x1="115.0" y1="361" x2="115.0" y2="363.5" stroke="#333" stroke-width="0.7"/>
<text x="115.0" y="372.2" font-size="6.1" text-anchor="middle" fill="#1e1e1e" stroke="#1e1e1e" stroke-width="0.18">12</text>
<line x1="135.8" y1="361" x2="135.8" y2="363.5" stroke="#333" stroke-width="0.7"/>
<text x="135.8" y="372.2" font-size="6.1" text-anchor="middle" fill="#1e1e1e" stroke="#1e1e1e" stroke-width="0.18">15</text>
<line x1="156.6" y1="361" x2="156.6" y2="363.5" stroke="#333" stroke-width="0.7"/>
<text x="156.6" y="372.2" font-size="6.1" text-anchor="middle" fill="#1e1e1e" stroke="#1e1e1e" stroke-width="0.18">18</text>
<line x1="177.3" y1="361" x2="177.3" y2="363.5" stroke="#333" stroke-width="0.7"/>
<text x="177.3" y="372.2" font-size="6.1" text-anchor="middle" fill="#1e1e1e" stroke="#1e1e1e" stroke-width="0.18">21</text>
<line x1="198.1" y1="361" x2="198.1" y2="363.5" stroke="#333" stroke-width="0.7"/>
<text x="198.1" y="372.2" font-size="6.1" text-anchor="middle" fill="#1e1e1e" stroke="#1e1e1e" stroke-width="0.18">24</text>
<line x1="218.8" y1="361" x2="218.8" y2="363.5" stroke="#333" stroke-width="0.7"/>
<text x="218.8" y="372.2" font-size="6.1" text-anchor="middle" fill="#1e1e1e" stroke="#1e1e1e" stroke-width="0.18">27</text>
<line x1="239.6" y1="361" x2="239.6" y2="363.5" stroke="#333" stroke-width="0.7"/>
<text x="239.6" y="372.2" font-size="6.1" text-anchor="middle" fill="#1e1e1e" stroke="#1e1e1e" stroke-width="0.18">30</text>
<line x1="260.4" y1="361" x2="260.4" y2="363.5" stroke="#333" stroke-width="0.7"/>
<text x="260.4" y="372.2" font-size="6.1" text-anchor="middle" fill="#1e1e1e" stroke="#1e1e1e" stroke-width="0.18">33</text>
<line x1="281.1" y1="361" x2="281.1" y2="363.5" stroke="#333" stroke-width="0.7"/>
<text x="281.1" y="372.2" font-size="6.1" text-anchor="middle" fill="#1e1e1e" stroke="#1e1e1e" stroke-width="0.18">36</text>
<line x1="301.9" y1="361" x2="301.9" y2="363.5" stroke="#333" stroke-width="0.7"/>
<text x="301.9" y="372.2" font-size="6.1" text-anchor="middle" fill="#1e1e1e" stroke="#1e1e1e" stroke-width="0.18">39</text>
<line x1="322.6" y1="361" x2="322.6" y2="363.5" stroke="#333" stroke-width="0.7"/>
<text x="322.6" y="372.2" font-size="6.1" text-anchor="middle" fill="#1e1e1e" stroke="#1e1e1e" stroke-width="0.18">42</text>
<line x1="343.4" y1="361" x2="343.4" y2="363.5" stroke="#333" stroke-width="0.7"/>
<text x="343.4" y="372.2" font-size="6.1" text-anchor="middle" fill="#1e1e1e" stroke="#1e1e1e" stroke-width="0.18">45</text>
<line x1="364.2" y1="361" x2="364.2" y2="363.5" stroke="#333" stroke-width="0.7"/>
<text x="364.2" y="372.2" font-size="6.1" text-anchor="middle" fill="#1e1e1e" stroke="#1e1e1e" stroke-width="0.18">48</text>
<text x="200.2" y="383.9" font-size="8.2" fill="#1e1e1e" stroke="#1e1e1e" stroke-width="0.25" textLength="37.4" lengthAdjust="spacingAndGlyphs">Time (months)</text>
<text x="0" y="0" font-size="8.4" fill="#1e1e1e" stroke="#1e1e1e" stroke-width="0.3" textLength="25.2" lengthAdjust="spacingAndGlyphs" transform="translate(13.6 196.6) rotate(-90)">Patient ID</text>
<text x="430.5" y="87.1" font-size="6.2" fill="#262626" stroke="#262626" stroke-width="0.15" textLength="30.2" lengthAdjust="spacingAndGlyphs">Termination</text>
<text x="438.8" y="98.4" font-size="6.8" fill="#262626" stroke="#262626" stroke-width="0.15" textLength="27.2" lengthAdjust="spacingAndGlyphs">Censored</text>
<text x="438.8" y="107.4" font-size="6.8" fill="#262626" stroke="#262626" stroke-width="0.15" textLength="14.7" lengthAdjust="spacingAndGlyphs">Dead</text>
<text x="430.5" y="123.2" font-size="6.2" fill="#262626" stroke="#262626" stroke-width="0.15" textLength="26.0" lengthAdjust="spacingAndGlyphs">Treatment</text>
<path d="M430.4 98.1L433.4 93L436.4 98.1Z" fill="none" stroke="#333" stroke-width="0.8"/>
<circle cx="433.3" cy="105.1" r="1.9" fill="none" stroke="#333" stroke-width="0.8"/>
<rect x="430.9" y="130.8" width="11.1" height="11.1" fill="#f7941d" stroke="#444" stroke-width="1"/>
<text x="444.9" y="138.8" font-size="6.5" fill="#262626" stroke="#262626" stroke-width="0.15" textLength="60.0" lengthAdjust="spacingAndGlyphs">Off-Change of therapy</text>
<rect x="430.9" y="145.4" width="11.1" height="11.1" fill="#c9c9c9" stroke="#444" stroke-width="1"/>
<text x="444.9" y="153.4" font-size="6.5" fill="#262626" stroke="#262626" stroke-width="0.15" textLength="63.5" lengthAdjust="spacingAndGlyphs">Off-Consent withdrawal</text>
<rect x="430.9" y="159.9" width="11.1" height="11.1" fill="#33a8e0" stroke="#444" stroke-width="1"/>
<text x="444.9" y="167.9" font-size="6.5" fill="#262626" stroke="#262626" stroke-width="0.15" textLength="52.5" lengthAdjust="spacingAndGlyphs">Off-MRD-Neg-Stop</text>
<rect x="430.9" y="174.5" width="11.1" height="11.1" fill="#e4107d" stroke="#444" stroke-width="1"/>
<text x="444.9" y="182.5" font-size="6.5" fill="#262626" stroke="#262626" stroke-width="0.15" textLength="26.0" lengthAdjust="spacingAndGlyphs">Off-Other</text>
<rect x="430.9" y="189.0" width="11.1" height="11.1" fill="#ffc20e" stroke="#444" stroke-width="1"/>
<text x="444.9" y="197.0" font-size="6.5" fill="#262626" stroke="#262626" stroke-width="0.15" textLength="19.5" lengthAdjust="spacingAndGlyphs">Off-PD</text>
<rect x="430.9" y="203.6" width="11.1" height="11.1" fill="#3aaa35" stroke="#444" stroke-width="1"/>
<text x="444.9" y="211.6" font-size="6.5" fill="#262626" stroke="#262626" stroke-width="0.15" textLength="69.0" lengthAdjust="spacingAndGlyphs">Off-Unacceptable Toxicity</text>
<rect x="430.9" y="218.1" width="11.1" height="11.1" fill="#abbf86" stroke="#444" stroke-width="1"/>
<text x="444.9" y="226.1" font-size="6.5" fill="#262626" stroke="#262626" stroke-width="0.15" textLength="10.3" lengthAdjust="spacingAndGlyphs">ON</text>
<text x="434.1" y="244.5" font-size="6.3" fill="#3d2c47" stroke="#3d2c47" stroke-width="0.15" textLength="23.8" lengthAdjust="spacingAndGlyphs">Respons</text>
<circle cx="436.1" cy="252.3" r="2.1" fill="#c8102e"/>
<text x="441.6" y="254.7" font-size="6.6" fill="#262626" stroke="#262626" stroke-width="0.15" textLength="8.6" lengthAdjust="spacingAndGlyphs">CR</text>
<circle cx="436.1" cy="262.2" r="2.1" fill="#5e3a10"/>
<text x="441.6" y="264.6" font-size="6.6" fill="#262626" stroke="#262626" stroke-width="0.15" textLength="8.6" lengthAdjust="spacingAndGlyphs">PD</text>
<circle cx="436.1" cy="272.0" r="2.1" fill="#1b4e74"/>
<text x="441.6" y="274.4" font-size="6.6" fill="#262626" stroke="#262626" stroke-width="0.15" textLength="8.6" lengthAdjust="spacingAndGlyphs">PR</text>
<circle cx="436.1" cy="281.9" r="2.1" fill="#0d5e4e"/>
<text x="441.6" y="284.2" font-size="6.6" fill="#262626" stroke="#262626" stroke-width="0.15" textLength="8.6" lengthAdjust="spacingAndGlyphs">SD</text>
<rect x="0.5" y="0.5" width="519" height="392" fill="none" stroke="#585858" stroke-width="1"/>
<rect x="1.5" y="1.5" width="517" height="390" fill="none" stroke="#d8d8d8" stroke-width="1" stroke-opacity="0.6"/>
</svg></body></html>
